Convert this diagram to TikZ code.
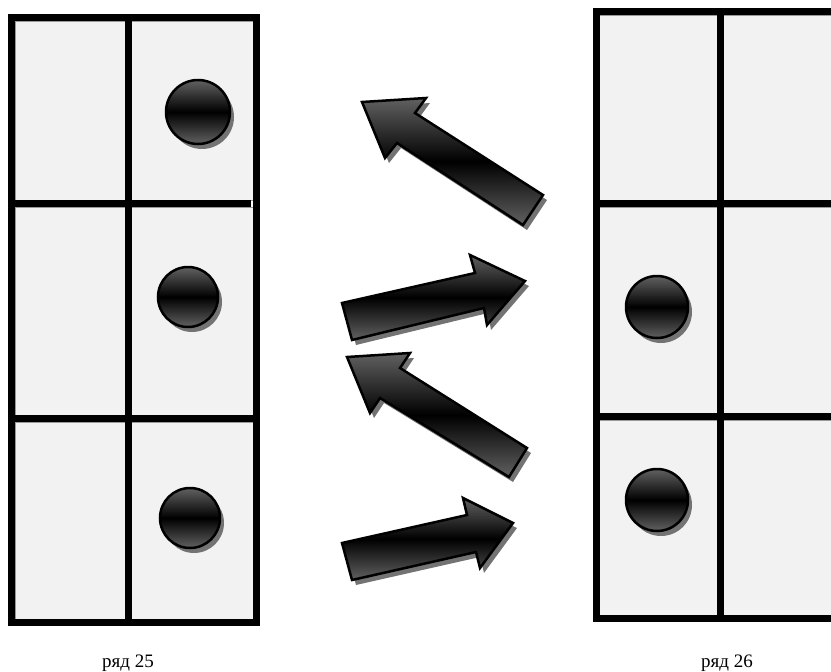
\documentclass[tikz,border=0pt]{standalone}
\usepackage{fontspec}
\setmainfont{Liberation Serif}
\begin{document}
\begin{tikzpicture}[x=1pt,y=-1pt,
  cellbox/.style={fill=black!5, draw=black!40, line width=0.8pt},
  gridline/.style={line width=7pt, draw=black},
  shadowshape/.style={fill=black!55, draw=none},
  glossy/.style={top color=black!62, bottom color=black!62, middle color=black, draw=black, line width=2.5pt, line join=miter},
  rowlabel/.style={font=\fontsize{19}{22}\selectfont, anchor=base, inner sep=0pt}]
\useasboundingbox (0,0) rectangle (831,672);
\clip (0,0) rectangle (831,672);
\fill[white] (0,0) rectangle (831,672);

% ---------- left grid ----------
\foreach \x/\X in {15/125,131/253}{
  \foreach \y/\Y in {21/200,207/415,422/619}{
    \draw[cellbox] (\x,\y) rectangle (\X,\Y);
  }}
\draw[gridline] (11.5,17.5) rectangle (256.5,622.5);
\draw[gridline] (128,17.5) -- (128,622.5);
\draw[gridline] (11.5,203.5) -- (251,203.5);
\draw[gridline] (11.5,418.5) -- (256.5,418.5);

% ---------- right grid ----------
\foreach \x/\X in {599/717,723/845}{
  \foreach \y/\Y in {15/200,207/413,420/615}{
    \draw[cellbox] (\x,\y) rectangle (\X,\Y);
  }}
\draw[gridline] (596,11.5) -- (850,11.5);
\draw[gridline] (596,618.5) -- (850,618.5);
\draw[gridline] (596,8) -- (596,622);
\draw[gridline] (720,11.5) -- (720,618.5);
\draw[gridline] (596,203.5) -- (850,203.5);
\draw[gridline] (596,416.5) -- (850,416.5);

% ---------- balls ----------
\foreach \cx/\cy/\r in {198/112/32, 188/297/30, 190/518/30, 657/307/31, 657/500/31}{
  \fill[shadowshape] (\cx+4,\cy+5) circle[radius=\r];
  \path[glossy] (\cx,\cy) circle[radius=\r];
}

% ---------- arrows ----------
\foreach \p in {
  {(362,102) -- (426,98) -- (415,113) -- (543,195) -- (523,225) -- (397,143) -- (385,158) -- cycle},
  {(525,281) -- (470,255) -- (475,273) -- (342,303) -- (352,340) -- (484,308) -- (487,325) -- cycle},
  {(347,357) -- (410,353) -- (400,368) -- (527,448) -- (509,477) -- (380,398) -- (370,413) -- cycle},
  {(513,523) -- (463,498) -- (467,515) -- (342,543) -- (352,580) -- (476,552) -- (480,568) -- cycle}}{
  \begin{scope}[shift={(4,5)}]
    \fill[shadowshape] \p;
  \end{scope}
  \path[glossy] \p;
}

% ---------- labels ----------
\node[rowlabel] (lab25) at (128,667) {ряд 25};
\node[rowlabel] (lab26) at (727,667) {ряд 26};
\end{tikzpicture}
\end{document}
